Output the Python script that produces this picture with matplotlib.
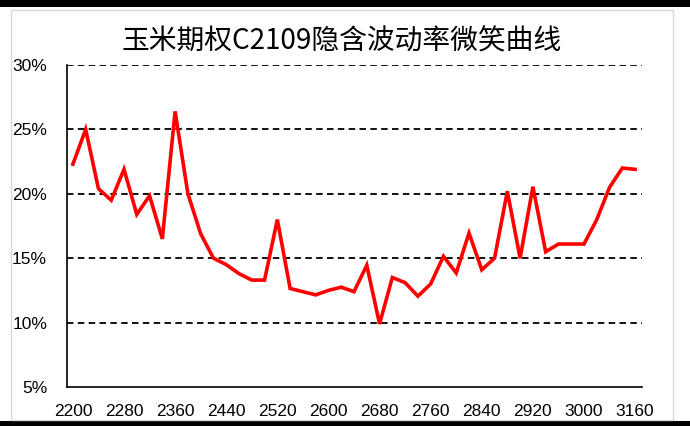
import matplotlib
matplotlib.use("Agg")
import matplotlib.pyplot as plt
from matplotlib.patches import Rectangle

plt.rcParams['font.family'] = ['Liberation Sans', 'Noto Sans CJK SC', 'DejaVu Sans']

title = "玉米期权C2109隐含波动率微笑曲线"

strikes = list(range(2200, 3001, 20)) + [3040, 3080, 3120, 3160]
iv = [22.3, 25.0, 20.4, 19.5, 21.9, 18.4, 19.85, 16.5, 26.4, 20.0,
      16.9, 15.0, 14.5, 13.8, 13.3, 13.3, 18.0, 12.65, 12.4, 12.15,
      12.5, 12.75, 12.4, 14.45, 9.9, 13.5, 13.1, 12.05, 13.0, 15.15,
      13.85, 16.95, 14.1, 15.0, 20.2, 15.0, 20.55, 15.5, 16.1, 16.1,
      16.1, 18.0, 20.5, 22.0, 21.9]
yticks = [5, 10, 15, 20, 25, 30]
ytick_labels = ["5%", "10%", "15%", "20%", "25%", "30%"]

W, H = 690, 426
fig = plt.figure(figsize=(W / 100, H / 100), dpi=100)

# background decorations: black bars and light gray chart border
fig.patches.append(Rectangle((0, 1 - 6.5 / H), 1, 6.5 / H, transform=fig.transFigure,
                             facecolor='black', edgecolor='none', zorder=-5))
fig.patches.append(Rectangle((0, 0), 1, 5 / H, transform=fig.transFigure,
                             facecolor='black', edgecolor='none', zorder=-5))
fig.patches.append(Rectangle((10.5 / W, 6 / H), (673 - 10.5) / W, (416 - 6) / H,
                             transform=fig.transFigure, facecolor='none',
                             edgecolor='#d9d9d9', linewidth=1.0, zorder=-5))

left, right, top, bottom = 66.5, 641.5, 65, 387
ax = fig.add_axes([left / W, 1 - bottom / H, (right - left) / W, (bottom - top) / H])
ax.set_facecolor('none')

x = list(range(len(strikes)))
ax.plot(x, iv, color='#ff0000', linewidth=2.6, solid_joinstyle='miter', zorder=3)

ax.set_xlim(-0.5, len(strikes) - 0.5)
ax.set_ylim(5, 30)

for v in yticks[1:]:
    ax.axhline(v, color='black', linewidth=1.3, dashes=(3.6, 2.4), zorder=1)

ax.set_yticks(yticks)
ax.set_yticklabels(ytick_labels)
tick_idx = list(range(0, len(strikes), 4))
ax.set_xticks(tick_idx)
ax.set_xticklabels([str(strikes[i]) for i in tick_idx])
ax.tick_params(axis='both', length=0, labelsize=12.5, colors='black')
ax.tick_params(axis='y', pad=14)
ax.tick_params(axis='x', pad=12)

for s in ['top', 'right']:
    ax.spines[s].set_visible(False)
for s in ['left', 'bottom']:
    ax.spines[s].set_color('black')
    ax.spines[s].set_linewidth(1.2)

fig.text(341.5 / W, 1 - 41 / H, title, ha='center', va='center', fontsize=20,
         family=['Noto Sans CJK SC', 'DejaVu Sans'])

fig.savefig("out.png", dpi=100)
